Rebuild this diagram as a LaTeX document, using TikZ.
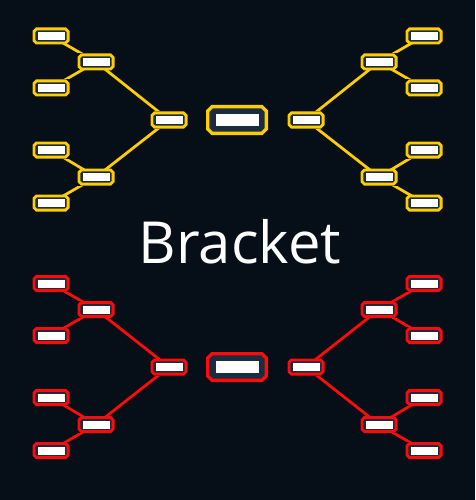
\documentclass[tikz,border=0pt]{standalone}
\usepackage{fontspec}
\setmainfont{Open Sans}
\usepackage{xcolor}
\usepackage{tikz}
\definecolor{nightbg}{RGB}{6, 14, 24}
\definecolor{slotfill}{RGB}{26, 44, 64}
\definecolor{gold}{RGB}{255, 204, 0}
\definecolor{hotred}{RGB}{255, 10, 10}
\pgfdeclarelayer{bg}
\pgfdeclarelayer{wires}
\pgfsetlayers{bg,wires,main}
% chamfered box with white slot: colour, line width, half width, chamfer, slot inset x, slot inset y
\newcommand{\slotshape}[6]{%
	\filldraw[fill = slotfill, draw = #1, line width = #2, line join = miter]
		([shift = {(#4, -#3)}]path picture bounding box.north west) -- ([shift = {(-#4, -#3)}]path picture bounding box.north east)
		-- ([shift = {(-#3, -#4)}]path picture bounding box.north east) -- ([shift = {(-#3, #4)}]path picture bounding box.south east)
		-- ([shift = {(-#4, #3)}]path picture bounding box.south east) -- ([shift = {(#4, #3)}]path picture bounding box.south west)
		-- ([shift = {(#3, #4)}]path picture bounding box.south west) -- ([shift = {(#3, -#4)}]path picture bounding box.north west) -- cycle;
	\fill[white] ([shift = {(#5, #6)}]path picture bounding box.south west)
		rectangle ([shift = {(-#5, -#6)}]path picture bounding box.north east);}

\begin{document}
\begin{tikzpicture}[x = 1pt, y = -1pt,
	slot/.style = {rectangle, fill = nightbg, inner sep = 0pt, minimum width = 37pt, minimum height = 17pt,
		path picture = {\slotshape{#1}{2.8pt}{1.4pt}{4pt}{5pt}{4.5pt}}},
	final/.style = {rectangle, fill = nightbg, inner sep = 0pt, minimum width = 62pt, minimum height = 30pt,
		path picture = {\slotshape{#1}{3.4pt}{1.7pt}{6pt}{9.5pt}{9pt}}},
	link/.style = {draw = #1, line width = 2.8pt}]
			\begin{pgfonlayer}{bg}
			\fill[nightbg] (0,0) rectangle (475,500);
			\end{pgfonlayer}
			\useasboundingbox (0,0) rectangle (475,500);

			% top bracket
			\node (yl1) at (51,36) [slot = gold] {};
			\node (yl2) at (51,88) [slot = gold] {};
			\node (yl3) at (51,150) [slot = gold] {};
			\node (yl4) at (51,203) [slot = gold] {};
			\node (yl5) at (96,62) [slot = gold] {};
			\node (yl6) at (96,177) [slot = gold] {};
			\node (yl7) at (169,120) [slot = gold] {};
			\node (yr1) at (424,36) [slot = gold] {};
			\node (yr2) at (424,88) [slot = gold] {};
			\node (yr3) at (424,150) [slot = gold] {};
			\node (yr4) at (424,203) [slot = gold] {};
			\node (yr5) at (379,62) [slot = gold] {};
			\node (yr6) at (379,177) [slot = gold] {};
			\node (yr7) at (306,120) [slot = gold] {};
			\node (yc) at (237,120) [final = gold] {};
			\begin{pgfonlayer}{wires}
			\draw[link = gold] (yl1.center) -- (yl5.center);
			\draw[link = gold] (yl2.center) -- (yl5.center);
			\draw[link = gold] (yl3.center) -- (yl6.center);
			\draw[link = gold] (yl4.center) -- (yl6.center);
			\draw[link = gold] (yl5.center) -- (yl7.center);
			\draw[link = gold] (yl6.center) -- (yl7.center);
			\draw[link = gold] (yr1.center) -- (yr5.center);
			\draw[link = gold] (yr2.center) -- (yr5.center);
			\draw[link = gold] (yr3.center) -- (yr6.center);
			\draw[link = gold] (yr4.center) -- (yr6.center);
			\draw[link = gold] (yr5.center) -- (yr7.center);
			\draw[link = gold] (yr6.center) -- (yr7.center);
			\end{pgfonlayer}

			\node (title) at (240,263) [anchor = base, white, font = \fontsize{58}{62}\selectfont] {Bracket};

			% bottom bracket
			\node (rl1) at (51,283.5) [slot = hotred] {};
			\node (rl2) at (51,335.5) [slot = hotred] {};
			\node (rl3) at (51,397.5) [slot = hotred] {};
			\node (rl4) at (51,450.5) [slot = hotred] {};
			\node (rl5) at (96,309.5) [slot = hotred] {};
			\node (rl6) at (96,424.5) [slot = hotred] {};
			\node (rl7) at (169,367) [slot = hotred] {};
			\node (rr1) at (424,283.5) [slot = hotred] {};
			\node (rr2) at (424,335.5) [slot = hotred] {};
			\node (rr3) at (424,397.5) [slot = hotred] {};
			\node (rr4) at (424,450.5) [slot = hotred] {};
			\node (rr5) at (379,309.5) [slot = hotred] {};
			\node (rr6) at (379,424.5) [slot = hotred] {};
			\node (rr7) at (306,367) [slot = hotred] {};
			\node (rc) at (237,367) [final = hotred] {};
			\begin{pgfonlayer}{wires}
			\draw[link = hotred] (rl1.center) -- (rl5.center);
			\draw[link = hotred] (rl2.center) -- (rl5.center);
			\draw[link = hotred] (rl3.center) -- (rl6.center);
			\draw[link = hotred] (rl4.center) -- (rl6.center);
			\draw[link = hotred] (rl5.center) -- (rl7.center);
			\draw[link = hotred] (rl6.center) -- (rl7.center);
			\draw[link = hotred] (rr1.center) -- (rr5.center);
			\draw[link = hotred] (rr2.center) -- (rr5.center);
			\draw[link = hotred] (rr3.center) -- (rr6.center);
			\draw[link = hotred] (rr4.center) -- (rr6.center);
			\draw[link = hotred] (rr5.center) -- (rr7.center);
			\draw[link = hotred] (rr6.center) -- (rr7.center);
			\end{pgfonlayer}
\end{tikzpicture}
\end{document}
